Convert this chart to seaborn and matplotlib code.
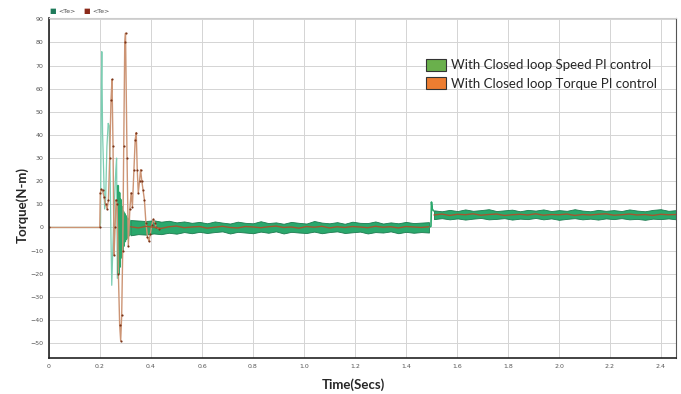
import numpy as np
import pandas as pd
import seaborn as sns
import matplotlib.pyplot as plt
from matplotlib.patches import Patch

# transient of the speed PI run (green)
speed_t = [0.0, 0.200, 0.202, 0.205, 0.207, 0.210, 0.214, 0.218, 0.222, 0.227, 0.232,
           0.236, 0.240, 0.243, 0.246, 0.250, 0.254, 0.258, 0.262, 0.265, 0.268]
speed_v = [0, 0, 2, 60, 76, 41, 25, 8, 12, 35, 45,
           44, 20, -5, -25, -10, 5, 15, 25, 30, -22]

# fast decaying ringing after the transient
ring_t = [0.2705, 0.273, 0.2755, 0.278, 0.2805, 0.283, 0.2855, 0.288, 0.2905, 0.293,
          0.2955, 0.298, 0.3005, 0.303, 0.3055, 0.308, 0.3105, 0.313, 0.3155, 0.318]
ring_v = [18, -20, 15, -17, 12, -13, 9, -10, 7, -8,
          6, -6, 5, -5, 4, -4, 3.5, -3.5, 3, -3]

# torque PI run (orange) transient
torque_t = [0.0, 0.199, 0.201, 0.205, 0.210, 0.216, 0.222, 0.228, 0.233, 0.238, 0.243,
            0.247, 0.251, 0.255, 0.259, 0.263, 0.267, 0.272, 0.277, 0.281, 0.285,
            0.289, 0.293, 0.297, 0.300, 0.306, 0.311, 0.317, 0.322, 0.327, 0.333,
            0.338, 0.342, 0.346, 0.350, 0.355, 0.359, 0.364, 0.369, 0.374, 0.380,
            0.386, 0.392, 0.397, 0.403, 0.409, 0.415, 0.421, 0.430]
torque_v = [0, 0, 15, 16.5, 16, 13, 10, 8, 12, 30, 55,
            64, 35, -12, 0, 12, 10, -20, -42, -49, -38,
            -10, 35, 80, 84, 30, -8, 8, 15, 9, 25,
            38, 41, 25, 15, 20, 25, 20, 16, 12, 2,
            -4, -6, -3, 1, 3.5, 2, 0, -0.5]

# steady-state noise band of the speed PI run, before the load step
pre_hi = [3.2, 3.0, 2.8, 3.1, 2.5, 2.9, 2.2, 2.6, 2.0, 2.4, 1.8, 2.6, 2.1, 1.7, 2.5, 2.0,
          1.8, 2.7, 1.9, 2.2, 1.6, 2.4, 2.0, 1.7, 2.8, 2.1, 1.8, 2.3, 1.6, 2.5, 2.0, 1.9,
          2.6, 1.7, 2.2, 1.8, 2.4, 1.9, 2.1, 2.3]
pre_lo = [-3.4, -2.9, -3.1, -2.6, -2.9, -2.3, -2.7, -2.0, -2.5, -1.9, -2.4, -2.0, -1.7,
          -2.6, -1.9, -2.2, -2.5, -1.8, -2.3, -1.7, -2.6, -1.9, -2.2, -2.4, -1.8, -2.5,
          -2.0, -1.7, -2.4, -2.1, -1.8, -2.6, -2.0, -2.2, -1.7, -2.5, -1.9, -2.3, -2.0, -2.2]
pre_torque = [0.3, -0.2, 0.5, 0.1, -0.4, 0.3, 0.6, -0.1, 0.2, 0.4, -0.3, 0.1, 0.5, 0.0,
              -0.2, 0.4, 0.2, -0.1, 0.3, 0.6, 0.0, 0.2, -0.3, 0.4, 0.1, 0.5, -0.2, 0.3,
              0.0, 0.4, 0.2, -0.1, 0.5, 0.1, 0.3, -0.2, 0.4, 0.2, 0.0, 0.3]

# after the load step at 1.5 s
step_t = [1.490, 1.498, 1.500, 1.503, 1.508]
step_v = [0, 0.5, 11, 8, 7.2]
post_hi = [7.4, 7.0, 7.6, 7.1, 7.8, 7.2, 7.5, 7.9, 7.1, 7.4, 7.7, 7.0, 7.6, 7.3, 7.8, 7.1,
           7.5, 7.2, 7.9, 7.3, 7.0, 7.6, 7.2, 7.5, 7.1, 7.8, 7.3, 7.0, 7.6, 7.9, 7.2, 7.5]
post_lo = [3.6, 4.0, 3.5, 3.9, 3.4, 3.8, 4.1, 3.5, 3.7, 4.0, 3.4, 3.8, 3.6, 4.1, 3.5, 3.9,
           3.3, 3.7, 4.0, 3.5, 3.8, 3.4, 3.9, 3.6, 4.0, 3.5, 3.7, 3.3, 3.8, 3.6, 3.9, 3.5]
post_torque = [5.4, 5.8, 5.2, 5.7, 5.5, 5.9, 5.3, 5.6, 5.8, 5.2, 5.5, 5.7, 5.4, 5.9, 5.3, 5.6,
               5.5, 5.8, 5.2, 5.6, 5.4, 5.7, 5.9, 5.3, 5.5, 5.8, 5.4, 5.6, 5.2, 5.7, 5.5, 5.6]

pre_t = np.linspace(0.32, 1.49, len(pre_hi))
post_t = np.linspace(1.51, 2.46, len(post_hi))

x_ticks = [0, 0.2, 0.4, 0.6, 0.8, 1.0, 1.2, 1.4, 1.6, 1.8, 2.0, 2.2, 2.4]
x_labels = ["0", "0.2", "0.4", "0.6", "0.8", "1.0", "1.2", "1.4", "1.6", "1.8", "2.0", "2.2", "2.4"]
y_ticks = list(range(-50, 91, 10))

legend_labels = ["With Closed loop Speed PI control", "With Closed loop Torque PI control"]

sns.set_style("whitegrid", {"grid.color": "#d4d4d4", "axes.edgecolor": "#222222"})

fig = plt.figure(figsize=(6.81, 3.94), dpi=100)
ax = fig.add_axes([0.072, 0.091, 0.921, 0.863])

band_face = "#2aa86c"
band_edge = "#1c7a4f"

sns.lineplot(x=speed_t, y=speed_v, ax=ax, color="#7ccdb2", lw=0.9,
             estimator=None, sort=False)
sns.lineplot(x=ring_t, y=ring_v, ax=ax, color=band_face, lw=1.6,
             estimator=None, sort=False)
ax.fill_between(pre_t, pre_lo, pre_hi, color=band_face, lw=0.6, edgecolor=band_edge)
ax.fill_between(post_t, post_lo, post_hi, color=band_face, lw=0.6, edgecolor=band_edge)
sns.lineplot(x=step_t, y=step_v, ax=ax, color=band_face, lw=1.2,
             estimator=None, sort=False)

sns.lineplot(x=torque_t, y=torque_v, ax=ax, color="#cc9474", lw=1.0,
             estimator=None, sort=False, marker=".", markersize=1.6,
             markeredgecolor="#7a3418", markerfacecolor="#7a3418")
sns.lineplot(x=list(pre_t), y=pre_torque, ax=ax, color="#a4562e", lw=1.0,
             estimator=None, sort=False)
sns.lineplot(x=list(post_t), y=post_torque, ax=ax, color="#a4562e", lw=1.0,
             estimator=None, sort=False)

ax.set_xlim(0, 2.46)
ax.set_ylim(-56.5, 90.5)
ax.set_xticks(x_ticks)
ax.set_xticklabels(x_labels)
ax.set_yticks(y_ticks)
ax.tick_params(labelsize=4.5, colors="#555555", length=2, pad=2)
ax.grid(True, lw=0.7)
for side in ["left", "bottom"]:
    ax.spines[side].set_color("#222222")
    ax.spines[side].set_linewidth(1.2)
ax.spines["right"].set_color("#555555")
ax.spines["top"].set_color("#cccccc")

ax.set_xlabel("Time(Secs)", fontsize=9.5, fontweight="bold", family="Lato")
ax.set_ylabel("Torque(N-m)", fontsize=9.5, fontweight="bold", family="Lato")
ax.xaxis.set_label_coords(0.485, -0.058)
ax.yaxis.set_label_coords(-0.033, 0.45)

handles = [Patch(facecolor="#6ab04c", edgecolor="#333333", lw=0.8),
           Patch(facecolor="#ed7d31", edgecolor="#333333", lw=0.8)]
ax.legend(handles, legend_labels, loc="upper left", bbox_to_anchor=(0.582, 0.915),
          frameon=False, prop={"family": "Lato", "size": 9.5},
          handlelength=1.5, handleheight=1.0, labelspacing=0.45, handletextpad=0.4)

# tiny signal legend above the axes
fig.text(0.072, 0.972, "\u25a0", color="#1e7a5a", fontsize=5, va="center")
fig.text(0.085, 0.972, "<Te>", color="#444444", fontsize=4.5, va="center")
fig.text(0.122, 0.972, "\u25a0", color="#8b2a1a", fontsize=5, va="center")
fig.text(0.135, 0.972, "<Te>", color="#444444", fontsize=4.5, va="center")

fig.savefig("out.png", dpi=100)
